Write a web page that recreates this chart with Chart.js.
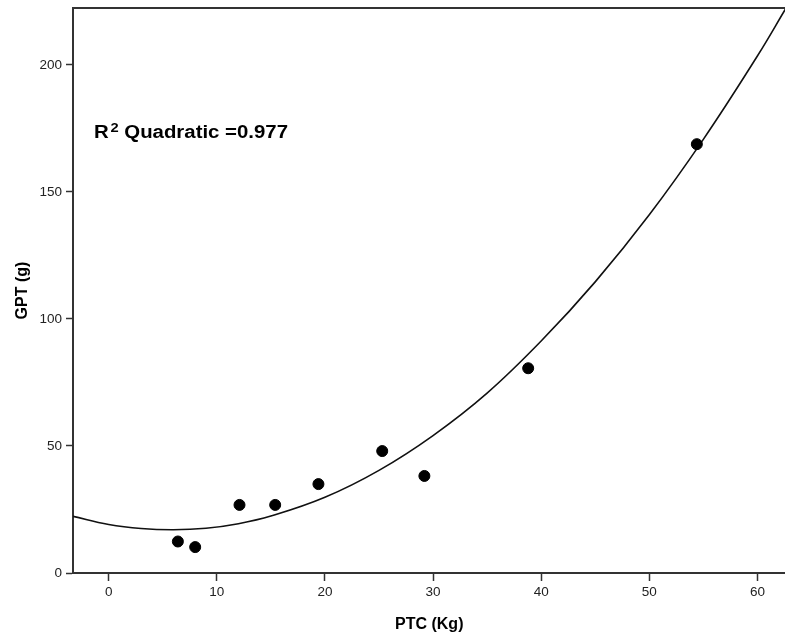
<!DOCTYPE html>
<html>
<head>
<meta charset="utf-8">
<script src="https://cdn.jsdelivr.net/npm/chart.js@4/dist/chart.umd.min.js"></script>
<style>
  html, body { margin: 0; padding: 0; background: #fff; overflow: hidden; }
  /* a little wider than the window so the plot runs to the right edge */
  #wrap { width: 792px; height: 638px; position: relative; }
</style>
</head>
<body>
<div id="wrap"><canvas id="fitChart"></canvas></div>
<script>
// Observed points: PTC (Kg) vs GPT (g)
const ptcValues = [6.4, 8.0, 12.1, 15.4, 19.4, 25.3, 29.2, 38.8, 54.4];
const gptValues = [12.4, 10.2, 26.8, 26.8, 35.0, 48.0, 38.2, 80.6, 168.8];

// Quadratic fit line
const fitX = [-3.3, 0, 3, 6, 9, 12, 15, 20, 25, 30, 35, 40, 45, 50, 55, 60, 62.6];
const fitY = [22.3, 19.1, 17.5, 17.0, 17.6, 19.4, 22.4, 29.8, 40.4, 54.1, 70.8, 91.3, 114.6, 141.0, 170.7, 203.5, 222.0];

const xTicks = [0, 10, 20, 30, 40, 50, 60];
const yTicks = [0, 50, 100, 150, 200];
const fitLabel = { base: 'R', sup: '2', rest: ' Quadratic =0.977' };

const FONT = '"Liberation Sans", Arial, sans-serif';
const AXIS_COLOR = '#333';

// top frame line + R² annotation
const framePlugin = {
    id: 'frame',
    afterDraw(chart) {
        const { ctx, chartArea } = chart;
        ctx.save();
        ctx.strokeStyle = AXIS_COLOR;
        ctx.lineWidth = 2;
        ctx.beginPath();
        ctx.moveTo(chartArea.left - 1, chartArea.top);
        ctx.lineTo(chartArea.right, chartArea.top);
        ctx.stroke();

        // annotation
        const x0 = 94, baseY = 138;
        ctx.fillStyle = '#000';
        ctx.textBaseline = 'alphabetic';
        ctx.font = 'bold 18px ' + FONT;
        const wR = ctx.measureText(fitLabel.base).width;
        const wRest = ctx.measureText(fitLabel.rest).width;
        ctx.font = 'bold 13px ' + FONT;
        const wSup = ctx.measureText(fitLabel.sup).width;
        const total = wR + 1.5 + wSup + wRest;
        const sx = 194 / total;
        ctx.translate(x0, baseY);
        ctx.scale(sx, 1);
        ctx.font = 'bold 18px ' + FONT;
        ctx.fillText(fitLabel.base, 0, 0);
        ctx.font = 'bold 13px ' + FONT;
        ctx.fillText(fitLabel.sup, wR + 1.5, -6);
        ctx.font = 'bold 18px ' + FONT;
        ctx.fillText(fitLabel.rest, wR + 1.5 + wSup, 0);
        ctx.restore();
    }
};

const ctx = document.getElementById('fitChart');
new Chart(ctx, {
    type: 'scatter',
    data: {
        datasets: [
            {
                label: 'Observed',
                data: ptcValues.map((x, i) => ({ x: x, y: gptValues[i] })),
                backgroundColor: '#000',
                borderColor: '#000',
                pointRadius: 5.5,
                pointHoverRadius: 5.5,
                showLine: false,
                order: 1
            },
            {
                label: 'Quadratic',
                data: fitX.map((x, i) => ({ x: x, y: fitY[i] })),
                showLine: true,
                borderColor: '#111',
                borderWidth: 1.6,
                pointRadius: 0,
                tension: 0.4,
                fill: false,
                order: 2
            }
        ]
    },
    options: {
        responsive: true,
        maintainAspectRatio: false,
        animation: false,
        layout: { padding: { top: 8, right: 0, left: 0, bottom: 0 } },
        plugins: {
            legend: { display: false },
            tooltip: { enabled: false }
        },
        scales: {
            x: {
                type: 'linear',
                min: -3.3,
                max: 62.6,
                afterFit: (scale) => {
                    scale.height = 65;
                    scale.paddingLeft = 0;
                    scale.paddingRight = 0;
                },
                afterBuildTicks: (scale) => { scale.ticks = xTicks.map(v => ({ value: v })); },
                ticks: {
                    includeBounds: false,
                    color: '#222',
                    font: { family: FONT, size: 13.5 },
                    padding: 3,
                    maxRotation: 0
                },
                grid: {
                    drawOnChartArea: false,
                    drawTicks: true,
                    tickLength: 8,
                    tickWidth: 1.5,
                    tickColor: AXIS_COLOR
                },
                border: { display: true, color: AXIS_COLOR, width: 2 },
                title: {
                    display: true,
                    text: 'PTC (Kg)',
                    color: '#000',
                    font: { family: FONT, size: 16, weight: 'bold' },
                    padding: { top: 0, bottom: 4 }
                }
            },
            y: {
                type: 'linear',
                min: 0,
                max: 222.4,
                afterFit: (scale) => {
                    scale.width = 73;
                    scale.paddingTop = 0;
                    scale.paddingBottom = 0;
                },
                afterBuildTicks: (scale) => { scale.ticks = yTicks.map(v => ({ value: v })); },
                ticks: {
                    includeBounds: false,
                    color: '#222',
                    font: { family: FONT, size: 13.5 },
                    padding: 4
                },
                grid: {
                    drawOnChartArea: false,
                    drawTicks: true,
                    tickLength: 7,
                    tickWidth: 1.5,
                    tickColor: AXIS_COLOR
                },
                border: { display: true, color: AXIS_COLOR, width: 2 },
                title: {
                    display: true,
                    text: 'GPT (g)',
                    color: '#000',
                    font: { family: FONT, size: 16, weight: 'bold' },
                    padding: { top: 13, bottom: 0 }
                }
            }
        }
    },
    plugins: [framePlugin]
});
</script>
</body>
</html>
